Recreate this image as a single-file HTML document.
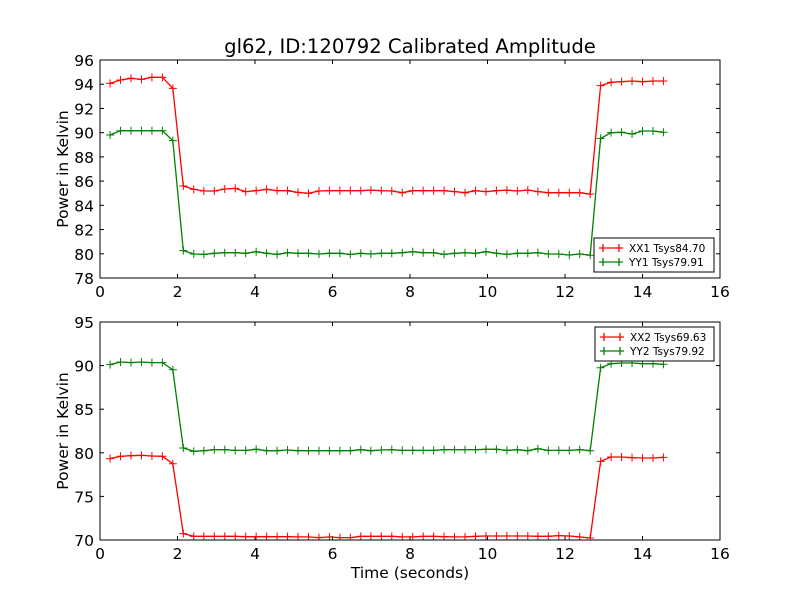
<!DOCTYPE html>
<html><head><meta charset="utf-8"><style>
body{margin:0;background:#fff;}
svg{display:block;font-family:"DejaVu Sans","Liberation Sans",sans-serif;}
</style></head><body>
<svg id="chart" width="800" height="600" viewBox="0 0 800 600">
<rect width="800" height="600" fill="#fff"/>
<text x="410" y="53" font-size="19.6" text-anchor="middle">gl62, ID:120792 Calibrated Amplitude</text>
<g id="top"></g><g id="bottom"></g>
<text x="410" y="578" font-size="15.5" text-anchor="middle">Time (seconds)</text>
</svg>
<script>
const times=[0.26,0.53,0.80,1.07,1.34,1.61,1.88,2.15,2.42,2.68,2.95,3.22,3.49,3.76,4.03,4.30,4.57,4.84,5.11,5.38,5.65,5.92,6.19,6.46,6.73,6.99,7.26,7.53,7.80,8.07,8.34,8.61,8.88,9.15,9.42,9.69,9.96,10.23,10.50,10.77,11.04,11.30,11.57,11.84,12.11,12.38,12.65,12.92,13.19,13.46,13.73,14.00,14.27,14.54];
const xx1=[94.07,94.35,94.49,94.40,94.57,94.57,93.66,
85.60,85.32,85.18,85.18,85.35,85.40,85.13,85.21,85.32,85.21,85.21,85.07,84.99,85.18,85.21,85.21,85.21,85.21,85.26,85.21,85.18,85.04,85.21,
85.21,85.21,85.21,85.13,85.04,85.21,85.13,85.21,85.26,85.18,85.26,85.13,85.04,85.04,85.04,85.04,84.93,
93.88,94.16,94.21,94.27,94.21,94.27,94.27];
const yy1=[89.81,90.16,90.16,90.16,90.16,90.16,89.34,
80.26,79.98,79.95,80.04,80.09,80.09,80.04,80.17,80.04,79.95,80.09,80.04,80.04,79.98,80.04,80.04,79.95,80.04,79.98,80.04,80.04,80.09,80.17,
80.09,80.09,79.95,80.04,80.09,80.04,80.17,80.04,79.95,80.04,80.04,80.09,79.98,79.98,79.90,79.98,79.88,
89.53,90.00,90.03,89.89,90.14,90.14,90.03];
const xx2=[79.33,79.60,79.67,79.71,79.63,79.60,78.75,
70.73,70.42,70.42,70.42,70.42,70.42,70.38,70.38,70.38,70.38,70.38,70.35,70.35,70.27,70.35,70.27,70.27,70.42,70.42,70.42,70.42,70.35,70.35,
70.42,70.42,70.38,70.35,70.35,70.42,70.46,70.46,70.46,70.46,70.46,70.42,70.42,70.50,70.46,70.35,70.23,
79.02,79.52,79.52,79.44,79.40,79.40,79.48];
const yy2=[90.11,90.41,90.34,90.41,90.34,90.34,89.53,
80.55,80.17,80.24,80.36,80.36,80.28,80.28,80.40,80.24,80.24,80.32,80.24,80.24,80.24,80.24,80.24,80.24,80.36,80.24,80.32,80.36,80.28,80.28,
80.28,80.28,80.36,80.36,80.36,80.36,80.40,80.40,80.28,80.36,80.24,80.47,80.28,80.28,80.28,80.36,80.24,
89.76,90.22,90.30,90.30,90.22,90.22,90.15];
const xTicks=[0,2,4,6,8,10,12,14,16];
const topTicks=[78,80,82,84,86,88,90,92,94,96];
const botTicks=[70,75,80,85,90,95];
const legendTop=["XX1 Tsys84.70","YY1 Tsys79.91"];
const legendBot=["XX2 Tsys69.63","YY2 Tsys79.92"];

const NS="http://www.w3.org/2000/svg";
function mk(parent,tag,attrs){const e=document.createElementNS(NS,tag);for(const k in attrs)e.setAttribute(k,attrs[k]);parent.appendChild(e);return e;}
function panel(gid,top,bot,ymin,ymax,yTicks,series,colors,labels,leg,prefix){
  const g=document.getElementById(gid);
  const L=100,R=720;
  const sx=v=>L+(v-0)/(16-0)*(R-L);
  const sy=v=>bot-(v-ymin)/(ymax-ymin)*(bot-top);
  xTicks.forEach(t=>{
    const x=sx(t);
    const a=mk(g,'line',{x1:x,x2:x,y1:bot,y2:bot-4,stroke:'#000'});
    
    
    const b=mk(g,'line',{x1:x,x2:x,y1:top,y2:top+4,stroke:'#000'});
    
    
    const tx=mk(g,'text',{x:x,y:bot+19,'font-size':'15.5','text-anchor':'middle'});
    tx.textContent=t;
    
    
  });
  yTicks.forEach(t=>{
    const y=sy(t);
    const a=mk(g,'line',{x1:L,x2:L+4,y1:y,y2:y,stroke:'#000'});
    
    
    const b=mk(g,'line',{x1:R,x2:R-4,y1:y,y2:y,stroke:'#000'});
    
    
    const tx=mk(g,'text',{x:L-6,y:y+6,'font-size':'15.5','text-anchor':'end'});
    tx.textContent=t;
    
    
  });
  const yt=mk(g,'text',{x:0,y:0,'font-size':'15.5','text-anchor':'middle',transform:`translate(68,${(top+bot)/2}) rotate(-90)`});
  yt.textContent='Power in Kelvin';
  
  
  const clip=mk(g,'clipPath',{id:'clip-'+gid});
  mk(clip,'rect',{x:L,y:top,width:R-L,height:bot-top});
  series.forEach((vals,si)=>{
    const sg=mk(g,'g',{'clip-path':`url(#clip-${gid})`});
    
    
    const pts=vals.map((v,i)=>sx(times[i]).toFixed(1)+','+sy(v).toFixed(1)).join(' ');
    const pl=mk(sg,'polyline',{points:pts,fill:'none',stroke:colors[si],'stroke-width':1.3});
    
    
    vals.forEach((v,i)=>{
      const x=sx(times[i]),y=sy(v);
      const m=mk(sg,'path',{d:`M${x-4},${y}H${x+4}M${x},${y-4}V${y+4}`,stroke:colors[si],'stroke-width':1});
      
      
    });
  });
  const fr=mk(g,'rect',{x:L,y:top,width:R-L,height:bot-top,fill:'none',stroke:'#000','stroke-width':1});
  
  
  const lg=mk(g,'g',{});
  
  
  mk(lg,'rect',{x:leg[0],y:leg[1],width:leg[2],height:leg[3],fill:'#fff',stroke:'#000'});
  labels.forEach((lab,i)=>{
    const y=leg[1]+10+i*14;
    const x0=leg[0]+5;
    mk(lg,'path',{d:`M${x0},${y}H${x0+24}M${x0+4},${y-4}V${y+4}M${x0+20},${y-4}V${y+4}`,stroke:colors[i],'stroke-width':1.3,fill:'none'});
    const t=mk(lg,'text',{x:x0+30,y:y+4,'font-size':'10.5'});
    t.textContent=lab;
    
    
  });
}
panel('top',60,278,78,96,topTicks,[xx1,yy1],['#ff0000','#008000'],legendTop,[594,238,120,34],'top');
panel('bottom',322,540,70,95,botTicks,[xx2,yy2],['#ff0000','#008000'],legendBot,[595,327,119,34],'bottom');
</script>
</body></html>
